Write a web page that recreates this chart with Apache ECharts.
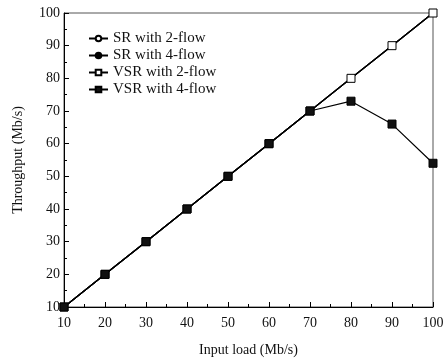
<!DOCTYPE html>
<html><head><meta charset="utf-8">
<script src="https://cdn.jsdelivr.net/npm/echarts@6/dist/echarts.min.js"></script>
<style>html,body{margin:0;padding:0;background:#fff}#c{width:448px;height:362px}</style>
</head><body><div id="c"></div>
<script>
const inputLoad = [10, 20, 30, 40, 50, 60, 70, 80, 90, 100];
const sr2flow  = [10, 20, 30, 40, 50, 60, 70, 80, 90, 100];
const sr4flow  = [10, 20, 30, 40, 50, 60, 70, 80, 90, 100];
const vsr2flow = [10, 20, 30, 40, 50, 60, 70, 80, 90, 100];
const vsr4flow = [10, 20, 30, 40, 50, 60, 70, 73, 66, 54];
const seriesNames = ['SR with 2-flow', 'SR with 4-flow', 'VSR with 2-flow', 'VSR with 4-flow'];

const font = 'Liberation Serif, Times New Roman, serif';
const pair = ys => inputLoad.map((x, i) => [x, ys[i]]);
function mk(name, ys, symbol, fill, size) {
  return {
    name, type: 'line', data: pair(ys), symbol, symbolSize: size,
    lineStyle: {color: '#000', width: 1.2},
    itemStyle: {color: fill, borderColor: '#000', borderWidth: 1},
    emphasis: {disabled: true}, animation: false
  };
}
const chart = echarts.init(document.getElementById('c'));
chart.setOption({
  backgroundColor: '#fff',
  textStyle: {fontFamily: font},
  grid: {left: 64, right: 15, top: 13, bottom: 55, show: true, borderColor: '#555', borderWidth: 1},
  legend: {
    orient: 'vertical', left: 83, top: 26, itemGap: 2, itemWidth: 19, itemHeight: 7,
    textStyle: {fontFamily: font, fontSize: 15, color: '#111'},
    data: seriesNames
  },
  xAxis: {
    type: 'value', min: 10, max: 100, interval: 10,
    name: 'Input load (Mb/s)', nameLocation: 'middle', nameGap: 36,
    nameTextStyle: {fontFamily: font, fontSize: 14, color: '#111'},
    axisLine: {lineStyle: {color: '#000', width: 1}},
    axisTick: {inside: true, length: 5, lineStyle: {color: '#000'}},
    minorTick: {show: true, splitNumber: 2, length: 3, lineStyle: {color: '#000'}},
    splitLine: {show: false},
    axisLabel: {fontFamily: font, fontSize: 14, color: '#111', margin: 9}
  },
  yAxis: {
    type: 'value', min: 10, max: 100, interval: 10,
    name: 'Throughput (Mb/s)', nameLocation: 'middle', nameGap: 39,
    nameTextStyle: {fontFamily: font, fontSize: 14, color: '#111'},
    axisLine: {show: true, lineStyle: {color: '#000', width: 1}},
    axisTick: {show: true, inside: true, length: 5, lineStyle: {color: '#000'}},
    minorTick: {show: true, splitNumber: 2, length: 3, lineStyle: {color: '#000'}},
    splitLine: {show: false},
    axisLabel: {fontFamily: font, fontSize: 14, color: '#111', margin: 4}
  },
  series: [
    mk(seriesNames[0], sr2flow, 'circle', '#fff', 6),
    mk(seriesNames[1], sr4flow, 'circle', '#000', 6),
    mk(seriesNames[2], vsr2flow, 'rect', '#fff', 8),
    mk(seriesNames[3], vsr4flow, 'rect', '#111', 8)
  ]
});
</script></body></html>
